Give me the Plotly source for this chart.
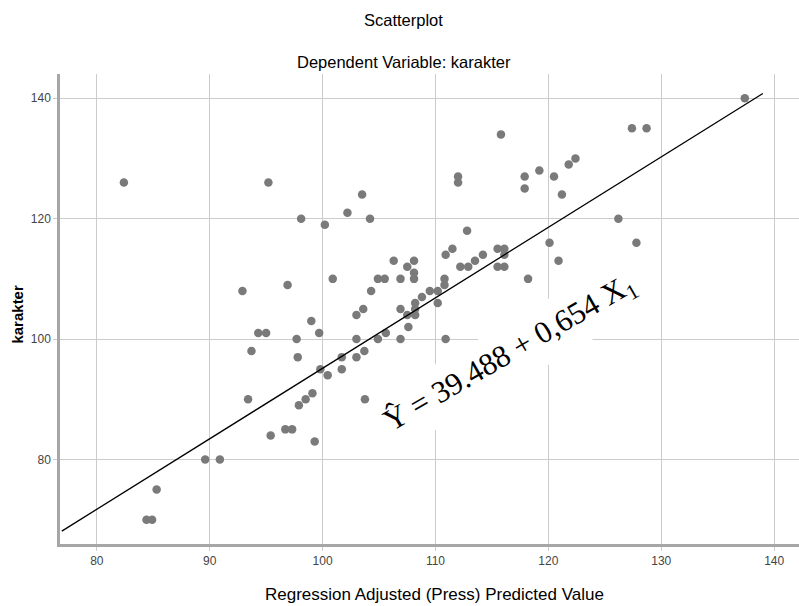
import plotly.graph_objects as go

# Scatter data: (predicted value, karakter)
pred = [82.4, 95.2, 98.1, 100.2, 102.2, 103.5, 104.2, 112.0, 112.0, 115.8,
        117.9, 117.9, 119.2, 120.5, 121.2, 121.8, 122.4, 127.4, 128.7, 137.4,
        126.2, 120.1, 127.8, 120.9, 118.2, 112.8, 110.9, 111.5, 114.2, 115.5,
        116.1, 116.1, 115.5, 116.1, 113.5, 112.2, 112.9, 106.3, 107.5, 108.1,
        108.1, 108.1, 96.9, 100.9, 104.9, 105.5, 106.9, 110.8, 110.8, 104.3,
        109.5, 110.2, 108.8, 108.2, 110.2, 106.9, 108.2, 103.6, 103.0, 107.5,
        108.2, 107.6, 99.0, 99.7, 94.3, 95.0, 97.7, 103.0, 104.9, 105.6,
        106.9, 110.9, 93.7, 97.8, 101.7, 103.0, 103.7, 99.8, 100.45, 101.7,
        103.75, 99.1, 98.5, 97.9, 93.4, 95.4, 96.7, 97.3, 99.3, 89.6,
        90.9, 85.3, 84.4, 84.9, 92.9]
karakter = [126, 126, 120, 119, 121, 124, 120, 127, 126, 134,
            127, 125, 128, 127, 124, 129, 130, 135, 135, 140,
            120, 116, 116, 113, 110, 118, 114, 115, 114, 115,
            115, 114, 112, 112, 113, 112, 112, 113, 112, 113,
            111, 110, 109, 110, 110, 110, 110, 110, 109, 108,
            108, 108, 107, 106, 106, 105, 105, 105, 104, 104,
            104, 102, 103, 101, 101, 101, 100, 100, 100, 101,
            100, 100, 98, 97, 97, 97, 98, 95, 94, 95,
            90, 91, 90, 89, 90, 84, 85, 85, 83, 80,
            80, 75, 70, 70, 108]

# Fit line endpoints as drawn in the reference
line_x = [76.9, 139.0]
line_y = [68.1, 140.8]

x_ticks = [80, 90, 100, 110, 120, 130, 140]
y_ticks = [80, 100, 120, 140]

title_text = "Scatterplot"
subtitle_text = "Dependent Variable: karakter"
x_title = "Regression Adjusted (Press) Predicted Value"
y_title = "karakter"
equation = "Ŷ = 39.488 + 0,654 X<sub>1</sub>"

grid = "#cccccc"
axis_col = "#a6a6a6"
sans = "Liberation Sans, Arial, sans-serif"

fig = go.Figure()
fig.add_trace(go.Scatter(
    x=pred, y=karakter, mode="markers",
    marker=dict(size=8.5, color="#7a7a7a", line=dict(width=0)),
    showlegend=False, hoverinfo="skip"))
fig.add_trace(go.Scatter(
    x=line_x, y=line_y, mode="lines",
    line=dict(color="black", width=1.3),
    showlegend=False, hoverinfo="skip"))

fig.update_layout(
    width=799, height=606,
    margin=dict(l=60, r=0, t=74, b=62, autoexpand=False),
    paper_bgcolor="white", plot_bgcolor="white",
    showlegend=False,
    xaxis=dict(range=[76.74, 142.2], tickvals=x_ticks, showgrid=True,
               gridcolor=grid, gridwidth=1.2, zeroline=False,
               showline=True, linecolor=axis_col, linewidth=2.5,
               ticks="outside", ticklen=4, tickcolor=grid,
               tickfont=dict(family=sans, size=12, color="#444444")),
    yaxis=dict(range=[65.96, 144.03], tickvals=y_ticks, showgrid=True,
               gridcolor=grid, gridwidth=1.2, zeroline=False,
               showline=True, linecolor=axis_col, linewidth=2.5,
               ticks="outside", ticklen=4, tickcolor=grid,
               tickfont=dict(family=sans, size=12, color="#444444")),
    annotations=[
        dict(text=title_text, xref="paper", yref="paper", x=0.465, y=1.115,
             xanchor="center", yanchor="middle", showarrow=False,
             font=dict(family=sans, size=16.5, color="#000000")),
        dict(text=subtitle_text, xref="paper", yref="paper", x=0.465, y=1.0255,
             xanchor="center", yanchor="middle", showarrow=False,
             font=dict(family=sans, size=16.5, color="#000000")),
        dict(text=x_title, xref="paper", yref="paper", x=0.507, y=-0.1085,
             xanchor="center", yanchor="middle", showarrow=False,
             font=dict(family=sans, size=17, color="#000000")),
        dict(text="<b>" + y_title + "</b>", xref="paper", yref="paper",
             x=-0.057, y=0.49, textangle=-90,
             xanchor="center", yanchor="middle", showarrow=False,
             font=dict(family=sans, size=15, color="#000000")),
        dict(text=equation, xref="paper", yref="paper", x=0.609, y=0.405,
             xanchor="center", yanchor="middle", showarrow=False,
             textangle=-30, bgcolor="white", borderpad=8,
             font=dict(family="Liberation Serif, Times New Roman, serif",
                       size=31, color="black")),
    ],
)

fig.write_html("out.html", config={"displayModeBar": False},
               post_script="document.body.style.margin='0';")
